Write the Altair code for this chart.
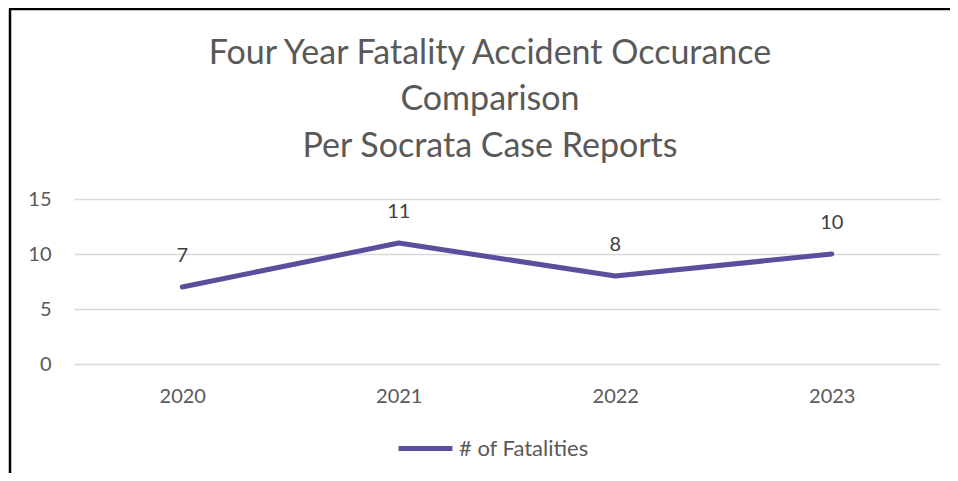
import altair as alt
import pandas as pd

years = ["2020", "2021", "2022", "2023"]
fatalities = [7, 11, 8, 10]
series_name = "# of Fatalities"
title_lines = ["Four Year Fatality Accident Occurance", "Comparison", "Per Socrata Case Reports"]
y_ticks = [0, 5, 10, 15]

df = pd.DataFrame({"Year": years, "Fatalities": fatalities, "Series": [series_name] * len(years)})
frame_df = pd.DataFrame({"k": [0]})

FONT = "Lato"
TXT = "#595959"
PURPLE = "#5A4F9C"

x_enc = alt.X("Year:O", scale=alt.Scale(type="point", padding=0.5),
              axis=alt.Axis(title=None, labelAngle=0, ticks=False, domain=False, grid=False,
                            labelPadding=22, labelFontSize=20, labelColor=TXT, labelFont=FONT))
y_enc = alt.Y("Fatalities:Q", scale=alt.Scale(domain=[0, 15], nice=False),
              axis=alt.Axis(title=None, values=y_ticks, ticks=False, domain=False, grid=True,
                            gridColor="#D9D9D9", gridWidth=1.3, labelPadding=23,
                            labelFontSize=20, labelColor=TXT, labelFont=FONT))

line = alt.Chart(df).mark_line(strokeWidth=5, strokeCap="round", strokeJoin="round").encode(
    x=x_enc, y=y_enc,
    color=alt.Color("Series:N", scale=alt.Scale(range=[PURPLE]),
                    legend=alt.Legend(title=None, orient="none", legendX=322, legendY=220,
                                      symbolType="stroke", symbolSize=2900, symbolStrokeWidth=5,
                                      labelFontSize=22, labelColor=TXT, labelFont=FONT,
                                      labelOffset=4)),
)

labels = alt.Chart(df).mark_text(dy=-31, fontSize=20, font=FONT, color="#404040").encode(
    x="Year:O", y="Fatalities:Q", text="Fatalities:Q"
)

frame_top = alt.Chart(frame_df).mark_rule(color="black", strokeWidth=2.5).encode(
    x=alt.value(-65), x2=alt.value(900), y=alt.value(-190)
)
frame_left = alt.Chart(frame_df).mark_rule(color="black", strokeWidth=2.5).encode(
    x=alt.value(-64), y=alt.value(-190), y2=alt.value(400)
)

chart = alt.layer(frame_top, frame_left, line, labels).properties(
    width=866, height=165,
    autosize=alt.AutoSizeParams(type="none"),
    padding={"left": 66, "top": 191, "right": 10, "bottom": 109},
    title=alt.TitleParams(text=title_lines, fontSize=34, font=FONT, color=TXT, fontWeight="normal",
                          lineHeight=46.5, anchor="middle", baseline="alphabetic",
                          dx=-17, dy=183, offset=0),
).configure(background="white").configure_view(stroke=None)

chart.save("out.html", embed_options={"renderer": "svg", "actions": False})
